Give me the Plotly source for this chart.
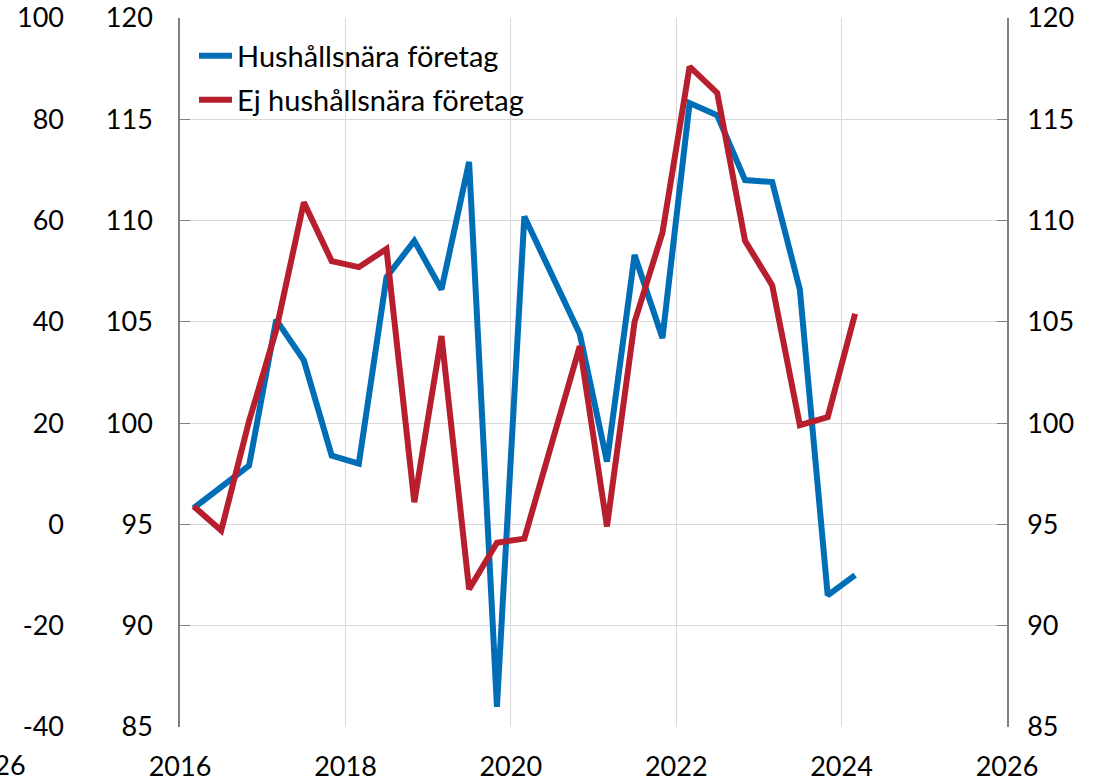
import plotly.graph_objects as go

# survey rounds, every four months (Mar / Jul / Nov)
dates = ['2016-03-01', '2016-07-01', '2016-11-01',
         '2017-03-01', '2017-07-01', '2017-11-01',
         '2018-03-01', '2018-07-01', '2018-11-01',
         '2019-03-01', '2019-07-01', '2019-11-01',
         '2020-03-01', '2020-07-01', '2020-11-01',
         '2021-03-01', '2021-07-01', '2021-11-01',
         '2022-03-01', '2022-07-01', '2022-11-01',
         '2023-03-01', '2023-07-01', '2023-11-01',
         '2024-03-01']

hushallsnara = [95.8, None, 97.9,
                105.1, 103.1, 98.4,
                98.0, 107.2, 109.0,
                106.6, 112.9, 86.0,
                110.2, None, 104.4,
                98.1, 108.3, 104.2,
                115.8, 115.2, 112.0,
                111.9, 106.6, 91.5,
                92.5]

ej_hushallsnara = [95.9, 94.7, 100.1,
                   104.6, 110.9, 108.0,
                   107.7, 108.6, 96.1,
                   104.3, 91.8, 94.1,
                   94.3, None, 103.8,
                   94.9, 105.0, 109.4,
                   117.6, 116.3, 109.0,
                   106.8, 99.9, 100.3,
                   105.4]

# outer left scale (balance figures)
outer_ticks = [-40, -20, 0, 20, 40, 60, 80, 100]
outer_labels = ['-40', '-20', '0', '20', '40', '60', '80', '100']

names = ['Hushållsnära företag', 'Ej hushållsnära företag']
colors = ['#006EB6', '#B81F2E']

font = dict(family='Lato', size=27, color='black')
legend_font = dict(family='Lato', size=29, color='black')
grid = '#d9d9d9'
axis_line = '#7f7f7f'

W, H = 1094, 781
L, R, T, B = 70, 87, 18, 54
plot_left = 180
PW, PH = W - L - R, H - T - B
dom0 = (plot_left - L) / PW

fig = go.Figure()
fig.add_trace(go.Scatter(x=dates, y=hushallsnara, name=names[0], mode='lines',
                         line=dict(color=colors[0], width=6), connectgaps=True,
                         legend='legend'))
fig.add_trace(go.Scatter(x=dates, y=ej_hushallsnara, name=names[1], mode='lines',
                         line=dict(color=colors[1], width=6), connectgaps=True,
                         legend='legend2'))
# empty traces so the extra y axes get drawn
fig.add_trace(go.Scatter(x=[], y=[], yaxis='y2', showlegend=False))
fig.add_trace(go.Scatter(x=[], y=[], yaxis='y3', showlegend=False))

fig.update_layout(
    width=W, height=H,
    margin=dict(l=L, r=R, t=T, b=B, autoexpand=False),
    paper_bgcolor='white', plot_bgcolor='white',
    font=font,
    xaxis=dict(type='date', domain=[dom0, 1], automargin=False,
               range=['2016-01-01', '2026-01-01'],
               tick0='2016-01-01', dtick='M24', tickformat='%Y',
               showgrid=True, gridcolor=grid, gridwidth=1,
               showline=False, ticks='', zeroline=False,
               ticklabelstandoff=21),
    yaxis=dict(range=[85, 120], tick0=85, dtick=5, anchor='x', automargin=False,
               showgrid=True, gridcolor=grid, gridwidth=1, zeroline=False,
               showline=True, linecolor=axis_line, linewidth=1.5,
               ticks='inside', ticklen=10, tickcolor=axis_line,
               ticklabelstandoff=20),
    yaxis2=dict(range=[85, 120], tick0=85, dtick=5, overlaying='y',
                anchor='x', side='right', showgrid=False, zeroline=False,
                automargin=False,
                showline=True, linecolor=axis_line, linewidth=1.5,
                ticks='inside', ticklen=10, tickcolor=axis_line,
                ticklabelstandoff=13),
    yaxis3=dict(range=[-40, 100], tickmode='array', tickvals=outer_ticks,
                ticktext=outer_labels, overlaying='y',
                anchor='free', position=0, side='left', showgrid=False,
                automargin=False,
                zeroline=False, showline=False, ticks='', ticklabelstandoff=6),
    legend=dict(x=(194 - L) / PW, y=1 - (56 - T) / PH, itemwidth=33,
                xanchor='left', yanchor='middle', bgcolor='rgba(0,0,0,0)',
                font=legend_font),
    legend2=dict(x=(194 - L) / PW, y=1 - (100 - T) / PH, itemwidth=33,
                 xanchor='left', yanchor='middle', bgcolor='rgba(0,0,0,0)',
                 font=legend_font),
    showlegend=True,
)

# leftover year label cut by the left edge of the picture
fig.add_annotation(text='2026', xref='paper', yref='paper',
                   x=(-6 - L) / PW, y=(727 - 765) / PH,
                   xanchor='center', yanchor='middle', showarrow=False, font=font)

# page body margin would shift the figure by 8px
fig.write_html('out.html', config={'displayModeBar': False},
               post_script="document.body.style.margin='0';")
